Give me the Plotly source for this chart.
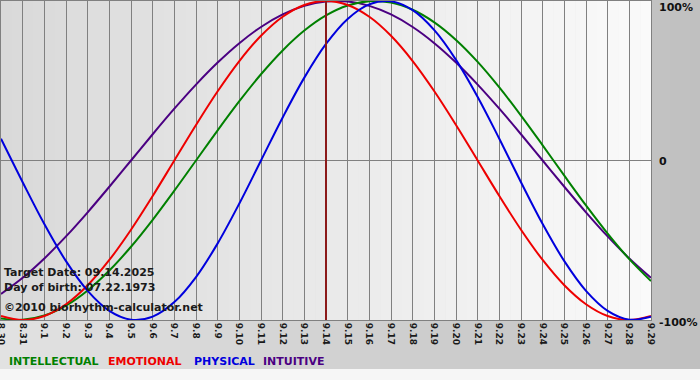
import plotly.graph_objects as go

# ---------------- data ----------------
day_labels = ["8.30", "8.31", "9.1", "9.2", "9.3", "9.4", "9.5", "9.6", "9.7", "9.8",
              "9.9", "9.10", "9.11", "9.12", "9.13", "9.14", "9.15", "9.16", "9.17",
              "9.18", "9.19", "9.20", "9.21", "9.22", "9.23", "9.24", "9.25", "9.26",
              "9.27", "9.28", "9.29"]

intellectual = [-0.9898, -0.9989, -0.9718, -0.9096, -0.8146, -0.6901, -0.5406, -0.3717,
                -0.1893, 0.0, 0.1893, 0.3717, 0.5406, 0.6901, 0.8146, 0.9096, 0.9718,
                0.9989, 0.9898, 0.9450, 0.8660, 0.7557, 0.6182, 0.4582, 0.2817, 0.0951,
                -0.0951, -0.2817, -0.4582, -0.6182, -0.7557]

emotional = [-0.9749, -1.0, -0.9749, -0.9010, -0.7818, -0.6235, -0.4339, -0.2225, 0.0,
             0.2225, 0.4339, 0.6235, 0.7818, 0.9010, 0.9749, 1.0, 0.9749, 0.9010, 0.7818,
             0.6235, 0.4339, 0.2225, 0.0, -0.2225, -0.4339, -0.6235, -0.7818, -0.9010,
             -0.9749, -1.0, -0.9749]

physical = [0.1362, -0.1362, -0.3984, -0.6311, -0.8170, -0.9423, -0.9977, -0.9791, -0.8879,
            -0.7308, -0.5196, -0.2698, 0.0, 0.2698, 0.5196, 0.7308, 0.8879, 0.9791, 0.9977,
            0.9423, 0.8170, 0.6311, 0.3984, 0.1362, -0.1362, -0.3984, -0.6311, -0.8170,
            -0.9423, -0.9977, -0.9791]

intuitive = [-0.8372, -0.7357, -0.6142, -0.4759, -0.3247, -0.1646, 0.0, 0.1646, 0.3247,
             0.4759, 0.6142, 0.7357, 0.8372, 0.9158, 0.9694, 0.9966, 0.9966, 0.9694,
             0.9158, 0.8372, 0.7357, 0.6142, 0.4759, 0.3247, 0.1646, 0.0, -0.1646,
             -0.3247, -0.4759, -0.6142, -0.7357]

target_index = 15  # 9.14
y_tick_values = [1, 0, -1]
y_tick_labels = ["100%", "0", "-100%"]
info_lines = ["Target Date: 09.14.2025", "Day of birth: 07.22.1973", "\u00a92010 biorhythm-calculator.net"]
legend_names = ["INTELLECTUAL", "EMOTIONAL", "PHYSICAL", "INTUITIVE"]

# ---------------- styling ----------------
W, H = 700, 380
ML, MR, MT, MB = 1, 49, 1, 60
PW, PH = W - ML - MR, H - MT - MB

COL = {"INTELLECTUAL": "#008000", "EMOTIONAL": "#ee0000",
       "PHYSICAL": "#0000dd", "INTUITIVE": "#4b0082"}
FONT = "DejaVu Sans"
x = list(range(len(day_labels)))


def px_x(p):
    return (p - ML) / PW


def px_y(p):
    return (MT + PH - p) / PH


def grey(v):
    v = int(round(v))
    return f"rgb({v},{v},{v})"


fig = go.Figure()

series = [("INTUITIVE", intuitive), ("INTELLECTUAL", intellectual),
          ("EMOTIONAL", emotional), ("PHYSICAL", physical)]
for name, vals in series:
    fig.add_trace(go.Scatter(x=x, y=vals, mode="lines", name=name,
                             line=dict(color=COL[name], width=2, shape="spline"),
                             showlegend=False, hoverinfo="skip"))

shapes = []
# figure background gradient (left light -> right darker)
n = 70
for i in range(n):
    p0 = i * W / n
    p1 = (i + 1) * W / n
    shapes.append(dict(type="rect", xref="paper", yref="paper", layer="below",
                       x0=px_x(p0), x1=px_x(p1 + 0.5), y0=px_y(H), y1=px_y(0),
                       fillcolor=grey(226 - (226 - 192) * (i + 0.5) / n), line=dict(width=0)))
# bottom light strip
shapes.append(dict(type="rect", xref="paper", yref="paper", layer="below",
                   x0=px_x(0), x1=px_x(W), y0=px_y(H), y1=px_y(369),
                   fillcolor="#f6f6f6", line=dict(width=0)))
# plot area gradient
m = 60
span = len(day_labels) - 1
for i in range(m):
    a = i * span / m
    b = (i + 1) * span / m
    shapes.append(dict(type="rect", xref="x", yref="y", layer="below",
                       x0=a, x1=b + 0.02, y0=-1, y1=1,
                       fillcolor=grey(217 + (250 - 217) * (i + 0.5) / m), line=dict(width=0)))
# target day line
shapes.append(dict(type="line", xref="x", yref="y", layer="above",
                   x0=target_index, x1=target_index, y0=-1, y1=1,
                   line=dict(color="#8b1a1a", width=2)))

annotations = []
for v, t in zip(y_tick_values, y_tick_labels):
    annotations.append(dict(text=t, xref="paper", yref="y", x=1, y=v,
                            xanchor="left", yanchor="middle", xshift=6,
                            yshift=-6 if v == 1 else (-2 if v == -1 else -1),
                            showarrow=False,
                            font=dict(family=FONT, size=11, color="#111111", weight="bold")))
for py, t in zip([272, 287, 307], info_lines):
    annotations.append(dict(text=t, xref="paper", yref="paper", x=px_x(2), y=px_y(py),
                            xanchor="left", yanchor="middle", showarrow=False,
                            font=dict(family=FONT, size=11, color="#1a1a1a", weight="bold")))
for pxl, name in zip([7, 106, 192, 261], legend_names):
    annotations.append(dict(text=name, xref="paper", yref="paper", x=px_x(pxl), y=px_y(361),
                            xanchor="left", yanchor="middle", showarrow=False,
                            font=dict(family=FONT, size=11, color=COL[name], weight="bold")))

fig.update_layout(
    template="none",
    width=W, height=H,
    margin=dict(l=ML, r=MR, t=MT, b=MB, pad=0),
    paper_bgcolor="#c8c8c8",
    plot_bgcolor="rgba(0,0,0,0)",
    showlegend=False,
    hovermode=False,
    shapes=shapes,
    annotations=annotations,
    xaxis=dict(range=[0, span], tickmode="array", tickvals=x, ticktext=day_labels,
               tickangle=90, showgrid=True, gridcolor="#808080", gridwidth=1,
               zeroline=False, showline=True, linecolor="#808080", linewidth=1, mirror=True,
               ticks="", automargin=False, ticklabeloverflow="allow", fixedrange=True,
               tickfont=dict(family=FONT, size=9, color="#1a1a1a", weight="bold")),
    yaxis=dict(range=[-1, 1], tickmode="array", tickvals=[0], showticklabels=False,
               showgrid=True, gridcolor="#808080", gridwidth=1, zeroline=False,
               showline=True, linecolor="#808080", linewidth=1, mirror=True,
               ticks="", automargin=False, fixedrange=True),
)

fig.write_html("out.html", config={"displayModeBar": False, "staticPlot": True},
               post_script="document.body.style.margin='0px';document.body.style.overflow='hidden';")
